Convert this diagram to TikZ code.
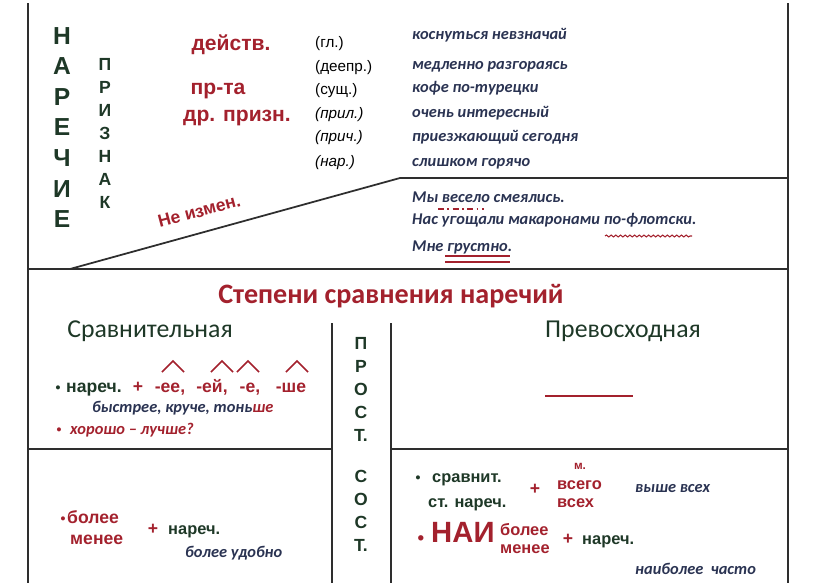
\documentclass[tikz,border=0pt]{standalone}
\usepackage{fontspec}
\setmainfont{Liberation Sans}
\newfontfamily\cali{Carlito}
\usetikzlibrary{decorations.pathmorphing}
\definecolor{darkred}{HTML}{A3212D}
\definecolor{darkgreen}{HTML}{1E3827}
\definecolor{navy}{HTML}{2A3352}
\definecolor{linegray}{HTML}{2E2E2E}
\tikzset{
  frame/.style={draw=linegray, line width=1.5pt},
  txt/.style={inner sep=0pt, text height=0.72em, text depth=0.2em},
  bigletter/.style={txt, font=\fontsize{21}{21}\selectfont\bfseries, text=darkgreen},
  smallletter/.style={txt, font=\fontsize{15}{15}\selectfont\bfseries, text=darkgreen},
  redword/.style={txt, font=\fontsize{18}{18}\selectfont\bfseries, text=darkred},
  part/.style={txt, font=\fontsize{13}{13}\selectfont, text=black, anchor=west},
  ex/.style={txt, font=\cali\fontsize{14}{14}\selectfont\bfseries\itshape, text=navy, anchor=west},
  head/.style={txt, font=\cali\fontsize{22}{22}\selectfont, text=darkgreen},
  green/.style={txt, font=\fontsize{15}{15}\selectfont\bfseries, text=darkgreen},
  red/.style={txt, font=\fontsize{15}{15}\selectfont\bfseries, text=darkred},
  redit/.style={txt, font=\cali\fontsize{14}{14}\selectfont\bfseries\itshape, text=darkred},
  dot/.style={txt, font=\fontsize{12}{12}\selectfont\bfseries, text=darkgreen}
}
\begin{document}
\begin{tikzpicture}[x=0.03cm,y=-0.03cm]
  \useasboundingbox (0,0) rectangle (816,583);

  % frame
  \draw[frame, line width=2.2pt] (28,3) -- (28,583);
  \draw[frame] (788,3) -- (788,583);
  \draw[frame] (28,269) -- (788,269);
  \draw[frame] (70,269) -- (400,178) -- (788,178);
  \draw[frame] (332,323) -- (332,583);
  \draw[frame] (391,323) -- (391,583);
  \draw[frame] (28,449) -- (332,449);
  \draw[frame] (391,449) -- (788,449);

  % vertical words
  \foreach \l [count=\i] in {Н,А,Р,Е,Ч,И,Е}
    \node[bigletter] (nar\i) at (62,{41+30.6*(\i-1)}) {\l};
  \foreach \l [count=\i] in {П,Р,И,З,Н,А,К}
    \node[smallletter] (pr\i) at (105,{67+23*(\i-1)}) {\l};
  \foreach \l [count=\i] in {П,Р,О,С,Т.}
    \node[smallletter] (prost\i) at (361,{346+23*(\i-1)}) {\l};
  \foreach \l [count=\i] in {С,О,С,Т.}
    \node[smallletter] (sost\i) at (361,{479+23*(\i-1)}) {\l};

  % what it tells about
  \node[redword] (deistv) at (231,47) {действ.};
  \node[redword] (prta) at (218,91) {пр-та};
  \node[redword] (drprizn) at (237,118) {др. призн.};
  \node[redword, font=\fontsize{15}{15}\selectfont\bfseries, rotate=15] (neizm) at (200,214) {Не измен.};

  \node[part] (gl) at (315,44) {(гл.)};
  \node[part] (deepr) at (315,68) {(деепр.)};
  \node[part] (sush) at (315,91) {(сущ.)};
  \node[part, font=\fontsize{13}{13}\selectfont\itshape] (pril) at (315,115) {(прил.)};
  \node[part, font=\fontsize{13}{13}\selectfont\itshape] (prich) at (315,138) {(прич.)};
  \node[part, font=\fontsize{13}{13}\selectfont\itshape] (narp) at (315,163) {(нар.)};

  \node[ex] (ex1) at (412,36) {коснуться невзначай};
  \node[ex] (ex2) at (412,66) {медленно разгораясь};
  \node[ex] (ex3) at (412,89) {кофе по-турецки};
  \node[ex] (ex4) at (412,114) {очень интересный};
  \node[ex] (ex5) at (412,138) {приезжающий сегодня};
  \node[ex] (ex6) at (412,163) {слишком горячо};

  \node[ex] (s1) at (412,199) {Мы весело смеялись.};
  \node[ex] (s2) at (412,221) {Нас угощали макаронами по-флотски.};
  \node[ex] (s3) at (412,248) {Мне грустно.};
  \draw[darkred, line width=1.2pt, dash pattern=on 5pt off 3pt on 1.5pt off 3pt] (438,209) -- (484,209);
  \draw[darkred, line width=0.9pt, decorate, decoration={snake, amplitude=0.8pt, segment length=4pt}] (605,236) -- (692,236);
  \draw[darkred, line width=1.2pt] (445,256) -- (510,256);
  \draw[darkred, line width=1.2pt] (445,262) -- (510,262);

  % degrees of comparison
  \node[txt, font=\cali\fontsize{24}{24}\selectfont\bfseries, text=darkred] (title) at (391,300) {Степени сравнения наречий};
  \node[head] (sravn) at (150,334) {Сравнительная};
  \node[head] (prevos) at (623,334) {Превосходная};

  \foreach \x in {173,222,248,297}
    \draw[darkred, line width=1.3pt] (\x-11,372) -- (\x,361) -- (\x+11,372);
  \node[dot] (b1) at (58,389) {•};
  \node[green, anchor=west] (nar1) at (66,389) {нареч.};
  \node[red] (plus1) at (138,389) {+};
  \node[red] (suf1) at (170,389) {-ее,};
  \node[red] (suf2) at (212,389) {-ей,};
  \node[red] (suf3) at (250,389) {-е,};
  \node[red] (suf4) at (291,389) {-ше};
  \node[ex] (bystr) at (92,409) {быстрее, круче, тонь\textcolor{darkred}{ше}};
  \node[dot, text=darkred] (b2) at (59,431) {•};
  \node[redit, anchor=west] (hor) at (70,431) {хорошо – лучше?};

  \draw[darkred, line width=1.5pt] (545,396) -- (633,396);

  % compound forms
  \node[dot, text=darkred] (b3) at (63,520) {•};
  \node[red, anchor=west] (bolee1) at (67,520) {более};
  \node[red, anchor=west] (menee1) at (70,541) {менее};
  \node[red] (plus2) at (153,531) {+};
  \node[green, font=\fontsize{14}{14}\selectfont\bfseries, anchor=west] (nar2) at (168,531) {нареч.};
  \node[ex] (udob) at (185,554) {более удобно};

  \node[dot] (b4) at (418,479) {•};
  \node[green, font=\fontsize{14}{14}\selectfont\bfseries, anchor=west] (sr) at (432,479) {сравнит.};
  \node[green, font=\fontsize{14}{14}\selectfont\bfseries, anchor=west] (stnar) at (428,504) {ст. нареч.};
  \node[red] (plus3) at (535,491) {+};
  \node[red, font=\fontsize{10}{10}\selectfont\bfseries] (m) at (580,466) {м.};
  \node[red, font=\fontsize{14}{14}\selectfont\bfseries, anchor=west] (vsego) at (557,486) {всего};
  \node[red, font=\fontsize{14}{14}\selectfont\bfseries, anchor=west] (vseh) at (557,504) {всех};
  \node[ex] (vyshe) at (635,489) {выше всех};

  \node[dot, text=darkred, font=\fontsize{16}{16}\selectfont\bfseries] (b5) at (421,541) {•};
  \node[red, font=\fontsize{25}{25}\selectfont\bfseries, anchor=west] (nai) at (431,539) {НАИ};
  \node[red, font=\fontsize{14}{14}\selectfont\bfseries, anchor=west] (bolee2) at (500,532) {более};
  \node[red, font=\fontsize{14}{14}\selectfont\bfseries, anchor=west] (menee2) at (500,550) {менее};
  \node[red] (plus4) at (568,541) {+};
  \node[green, font=\fontsize{14}{14}\selectfont\bfseries, anchor=west] (nar3) at (582,541) {нареч.};
  \node[ex] (chasto) at (635,571) {наиболее~~часто};
\end{tikzpicture}
\end{document}
